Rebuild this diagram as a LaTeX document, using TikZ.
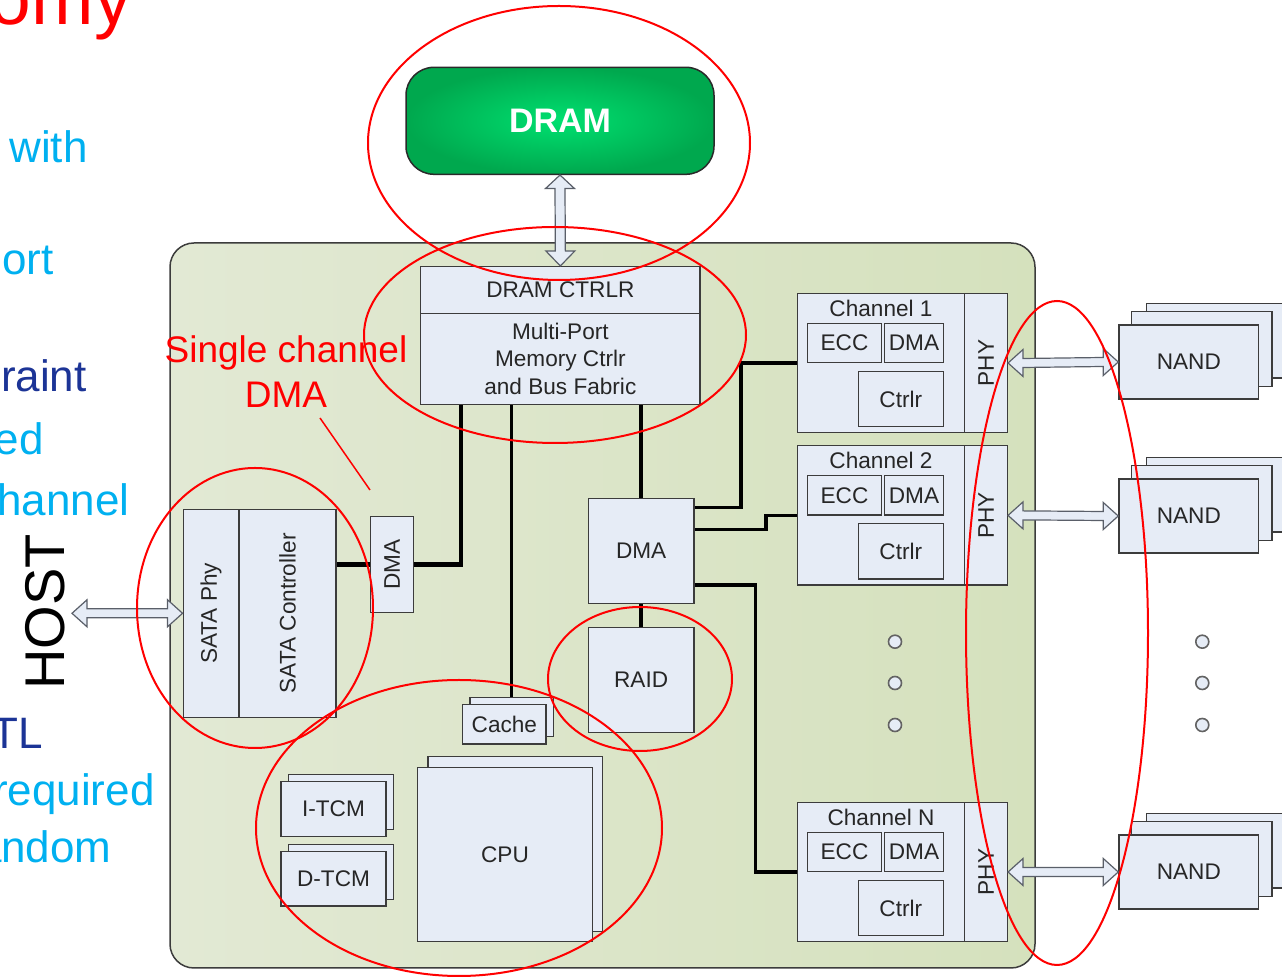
\documentclass[tikz,border=0pt]{standalone}
\usepackage{fontspec}
\setmainfont{Liberation Sans}
\usetikzlibrary{calc}
\definecolor{boxfill}{RGB}{230,236,246}
\definecolor{boxline}{RGB}{60,60,60}
\definecolor{txt}{RGB}{38,38,38}
\definecolor{lblue}{RGB}{0,176,240}
\definecolor{dblue}{RGB}{28,52,150}
\definecolor{boardA}{RGB}{226,233,212}
\definecolor{boardB}{RGB}{213,225,189}
\definecolor{dramA}{RGB}{0,224,112}
\definecolor{dramB}{RGB}{0,168,78}
\definecolor{arrline}{RGB}{90,95,105}
\newcommand{\bfnt}{\fontsize{11.3}{13.75}\selectfont}
\newcommand{\bx}[7][]{\node[box,minimum width={0.5pt*(#5-#3)},minimum height={0.5pt*(#6-#4)},#1] (#2) at ({(#3+#5)/2},{(#4+#6)/2}) {#7};}
\newcommand{\harrow}[2]{\draw[blockarr] (#1) -- ($(#1)+(15,-13.5)$) -- ($(#1)+(15,-4.5)$) -- ($(#2)+(-15,-4.5)$) -- ($(#2)+(-15,-13.5)$) -- (#2) -- ($(#2)+(-15,13.5)$) -- ($(#2)+(-15,4.5)$) -- ($(#1)+(15,4.5)$) -- ($(#1)+(15,13.5)$) -- cycle;}
\newcommand{\varrow}[2]{\draw[blockarr] (#1) -- ($(#1)+(-14.5,13.5)$) -- ($(#1)+(-5,13.5)$) -- ($(#2)+(-5,-15)$) -- ($(#2)+(-14.5,-15)$) -- (#2) -- ($(#2)+(14.5,-15)$) -- ($(#2)+(5,-15)$) -- ($(#1)+(5,13.5)$) -- ($(#1)+(14.5,13.5)$) -- cycle;}
\newcommand{\chan}[3]{%
\begin{scope}[shift={(0,#2)}]
\bx{#1}{797.3}{293.3}{964.7}{432.7}{}
\bx{#1phy}{964.7}{293.3}{1007.3}{432.7}{}
\node[lbl] (#1lbl) at (881,308.5) {#3};
\bx{#1ecc}{807.3}{323.3}{881.7}{362.7}{ECC}
\bx{#1dma}{884.7}{323.3}{943.3}{362.7}{DMA}
\bx{#1ctl}{858.3}{371.3}{943.3}{426.7}{Ctrlr}
\node[lbl,rotate=90] (#1phyt) at (#1phy.center) {PHY};
\end{scope}}
\newcommand{\nandstack}[2]{%
\begin{scope}[shift={(0,#2)}]
\bx{#1c}{1146.7}{303.3}{1292}{378}{}
\bx{#1b}{1131.7}{311.7}{1272}{386.7}{}
\bx{#1}{1119}{325}{1258.7}{399}{NAND}
\end{scope}}
\begin{document}
\begin{tikzpicture}[x=0.5pt,y=-0.5pt,
  box/.style={draw=boxline,fill=boxfill,line width=0.75pt,inner sep=0pt,font=\bfnt,text=txt},
  lbl/.style={font=\bfnt,text=txt,inner sep=0pt},
  blockarr/.style={draw=arrline,fill=boxfill,line width=0.6pt,line join=miter},
  wireA/.style={line width=2.3pt},
  wireB/.style={line width=1.7pt},
  redring/.style={draw=red,line width=1pt},
  dotc/.style={circle,draw=boxline!80,fill=boxfill,line width=0.8pt,minimum size=6.5pt,inner sep=0pt},
  slide/.style={font=\fontsize{22}{24}\selectfont,inner sep=0pt,anchor=base east}]
\useasboundingbox (0,0) rectangle (1282,977);

% slide text fragments
\node[slide,text=red,font=\fontsize{37.5}{40}\selectfont] (t0) at (132,25) {omy};
\node[slide,text=lblue] (t1) at (88,163) {with};
\node[slide,text=lblue] (t2) at (54,275) {ort};
\node[slide,text=dblue] (t3) at (87,392) {raint};
\node[slide,text=lblue] (t4) at (44,455) {ed};
\node[slide,text=lblue] (t5) at (130,516) {channel};
\node[slide,text=dblue] (t6) at (43,749) {TL};
\node[slide,text=lblue] (t7) at (155,806) {required};
\node[slide,text=lblue] (t8) at (112,863) {andom};

% board
\shadedraw[left color=boardA,right color=boardB,draw=boxline,line width=0.75pt,rounded corners=12pt] (170,243) rectangle (1035,968);

% DRAM
\bx[rounded corners=14pt,inner color=dramA,outer color=dramB,draw=boxline!70!black,text=white,font=\fontsize{17}{20}\selectfont\bfseries]{dram}{406}{67.3}{714}{174.3}{DRAM}

% controller
\bx{ctrlhead}{420.7}{266.7}{700}{313.3}{DRAM CTRLR}
\bx[align=center]{ctrl}{420.7}{313.3}{700}{404.3}{Multi-Port\\Memory Ctrlr\\and Bus Fabric}
\varrow{dram.south}{ctrlhead.north}

% SATA
\bx{sataphy}{183.3}{509.3}{239}{717.3}{}
\bx{satactl}{239}{509.3}{336}{717.3}{}
\node[lbl,rotate=90] (sataphyt) at (sataphy.center) {SATA Phy};
\node[lbl,rotate=90] (satactlt) at (satactl.center) {SATA Controller};
\bx{sdma}{370.7}{516.7}{413.3}{612.7}{}
\node[lbl,rotate=90] (sdmat) at (sdma.center) {DMA};
\node[font=\fontsize{28}{30}\selectfont,inner sep=0pt,rotate=90] (host) at (45,612) {HOST};
\coordinate (hostend) at (72,613.3);
\harrow{hostend}{sataphy.west}

% DMA, RAID
\bx{dma}{588.3}{498.3}{694}{603.7}{DMA}
\bx{raid}{588.3}{627.7}{694}{732.3}{RAID}

% cache, tcm, cpu
\bx{cacheb}{470}{697.3}{553.3}{736.7}{}
\bx{cache}{462.7}{704.3}{546}{744}{Cache}
\bx{itcmb}{288.3}{774.3}{393.3}{829.3}{}
\bx{itcm}{281}{781.7}{386}{836.7}{I-TCM}
\bx{dtcmb}{288.3}{844.3}{393.3}{899.3}{}
\bx{dtcm}{281}{851.7}{386}{906}{D-TCM}
\bx{cpub}{428}{756.7}{602.7}{931.7}{}
\bx{cpu}{417.7}{767.3}{592.3}{941.3}{CPU}

% channels
\chan{cha}{0}{Channel 1}
\chan{chb}{152.4}{Channel 2}
\chan{chn}{509}{Channel N}

% nand
\nandstack{nanda}{0}
\nandstack{nandb}{154}
\nandstack{nandn}{510}
\harrow{chaphy.east}{nanda.west}
\harrow{chbphy.east}{nandb.west}
\harrow{chnphy.east}{nandn.west}

% dots
\node[dotc] (d1) at (895,641.7) {};
\node[dotc] (d2) at (895,683) {};
\node[dotc] (d3) at (895,725) {};
\node[dotc] (d4) at (1202.3,641.7) {};
\node[dotc] (d5) at (1202.3,683) {};
\node[dotc] (d6) at (1202.3,725) {};

% wires
\draw[wireA] (sdma.west) -- (sdma.west -| satactl.east);
\draw[wireA] (sdma.east) -| ($(ctrl.south west)+(41,0)$);
\draw[wireB] (cacheb.north) -- (cacheb.north |- ctrl.south);
\draw[wireB] (dma.north) -- (dma.north |- ctrl.south);
\draw[wireA] (dma.south) -- (raid.north);
\draw[wireB] ($(dma.north east)+(0,10)$) -| ($(cha.west)+(-55.6,0)$) -- (cha.west);
\draw[wireB] ($(dma.north east)+(0,31.7)$) -| ($(chb.west)+(-30.6,0)$) -- (chb.west);
\draw[wireB] ($(dma.north east)+(0,87.4)$) -| ($(chn.west)+(-41.3,0)$) -- (chn.west);

% annotation
\node[text=red,font=\fontsize{18.5}{22.5}\selectfont,align=center,inner sep=0pt] (sc) at (286,372) {Single channel\\DMA};
\coordinate (annA) at (320,418);
\coordinate (annB) at (370,490);
\draw[red,line width=0.75pt] (annA) -- (annB);

% red rings
\draw[redring] (559,143) ellipse [x radius=95.5pt,y radius=68.5pt];
\draw[redring] (555,335) ellipse [x radius=95.5pt,y radius=54pt];
\draw[redring] (255,608) ellipse [x radius=59pt,y radius=70pt];
\draw[redring] (640,679) ellipse [x radius=46pt,y radius=36pt];
\draw[redring] (459,828) ellipse [x radius=101.5pt,y radius=74pt];
\draw[redring] (1057,633) ellipse [x radius=45.5pt,y radius=166pt];
\end{tikzpicture}
\end{document}
